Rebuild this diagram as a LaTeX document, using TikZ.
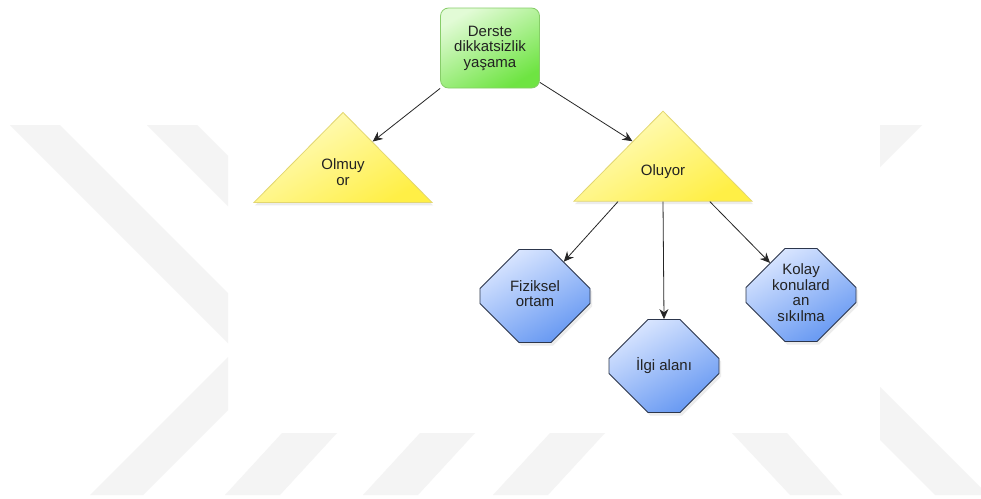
\documentclass[tikz,border=0pt]{standalone}
\usepackage{fontspec}
\setmainfont{Liberation Sans}
\usepackage{xcolor}
\usetikzlibrary{arrows.meta,calc,shapes.geometric,shapes.misc,shadows}

\definecolor{wmgray}{RGB}{244,244,244}
\definecolor{yazi}{RGB}{34,34,34}
\definecolor{yesilacik}{RGB}{226,251,214}
\definecolor{yesilkoyu}{RGB}{110,228,66}
\definecolor{yesilkenar}{RGB}{135,205,105}
\definecolor{saridacik}{RGB}{255,252,196}
\definecolor{sarikoyu}{RGB}{255,239,70}
\definecolor{sarikenar}{RGB}{226,214,112}
\definecolor{maviacik}{RGB}{218,230,255}
\definecolor{mavikoyu}{RGB}{102,152,242}
\definecolor{mavikenar}{RGB}{44,54,76}

% same text box in every octagon, so all outlines match
\newcommand{\kutuyazi}[1]{\parbox[c][30pt][c]{52pt}{\centering
    \makebox[0pt]{\begin{tabular}{@{}c@{}}#1\end{tabular}}}}

\tikzset{
  kok/.style={rectangle, rounded corners=8pt, draw=yesilkenar, line width=0.8pt,
    top color=yesilacik, bottom color=yesilkoyu, shading angle=30,
    minimum width=99pt, minimum height=80pt, align=center, text=yazi},
  ucgen/.style={isosceles triangle, isosceles triangle stretches,
    shape border rotate=90, draw=sarikenar, line width=0.8pt,
    top color=saridacik, bottom color=sarikoyu, shading angle=30,
    drop shadow={opacity=0.15, shadow xshift=1pt, shadow yshift=-3pt},
    minimum width=178pt, minimum height=90pt, inner sep=0pt, align=center, text=yazi},
  sekizgen/.style={chamfered rectangle, chamfered rectangle xsep=24pt,
    chamfered rectangle ysep=24pt, draw=mavikenar, line width=0.8pt,
    top color=maviacik, bottom color=mavikoyu, shading angle=30,
    drop shadow={opacity=0.15, shadow xshift=2pt, shadow yshift=-3pt},
    minimum width=110pt, minimum height=93pt, inner sep=0pt, text=yazi},
  ok/.style={-{Stealth[length=10pt, width=9pt]}, line width=0.8pt, draw=black!85}
}

\begin{document}
\begin{tikzpicture}[x=1pt, y=-1pt, font=\fontsize{15}{15.5}\selectfont]
    \fill [white] (0,0) rectangle (981,498);
    \useasboundingbox (0,0) rectangle (981,498);

    % watermark bands
    \fill [wmgray] (10,125) -- (60,125) -- (228,293) -- (228,343) -- cycle;
    \fill [wmgray] (147,125) -- (197,125) -- (228,156) -- (228,206) -- cycle;
    \fill [wmgray] (90,495) -- (143,495) -- (228,410) -- (228,357) -- cycle;
    \fill [wmgray] (880,125) -- (922,125) -- (880,167) -- cycle;
    \fill [wmgray] (880,387) -- (981,488) -- (981,495) -- (935,495) -- (880,440) -- cycle;
    \foreach \x in {282,420,550}
        \fill [wmgray] (\x,433) -- (\x+55,433) -- (\x-2,495) -- (\x-57,495) -- cycle;
    \fill [wmgray] (732,433) -- (787,433) -- (842,495) -- (790,495) -- cycle;

    \node (root) [kok] at (490,48) {Derste\\dikkatsizlik\\yaşama};
    \node (olmuyor) [ucgen] at (343,172) {Olmuy\\or};
    \node (oluyor) [ucgen] at (663,172) {Oluyor};
    \node (fiziksel) [sekizgen] at (535,296) {\kutuyazi{Fiziksel\\ortam}};
    \node (ilgi) [sekizgen] at (664,366) {\kutuyazi{İlgi alanı}};
    \node (kolay) [sekizgen] at (801,295) {\kutuyazi{Kolay\\konulard\\an\\sıkılma}};

    \draw [ok] (root.south west) -- ($(olmuyor.apex)!0.33!(olmuyor.right corner)$);
    \draw [ok] ([yshift=6pt]root.south east) -- ($(oluyor.apex)!0.34!(oluyor.left corner)$);
    \draw [ok] ($(oluyor.left corner)!0.25!(oluyor.right corner)$) -- (fiziksel.50);
    \draw [ok] ($(oluyor.left corner)!0.5!(oluyor.right corner)$) -- (ilgi.north);
    \draw [ok] ($(oluyor.left corner)!0.76!(oluyor.right corner)$) -- (kolay.134);
\end{tikzpicture}
\end{document}
